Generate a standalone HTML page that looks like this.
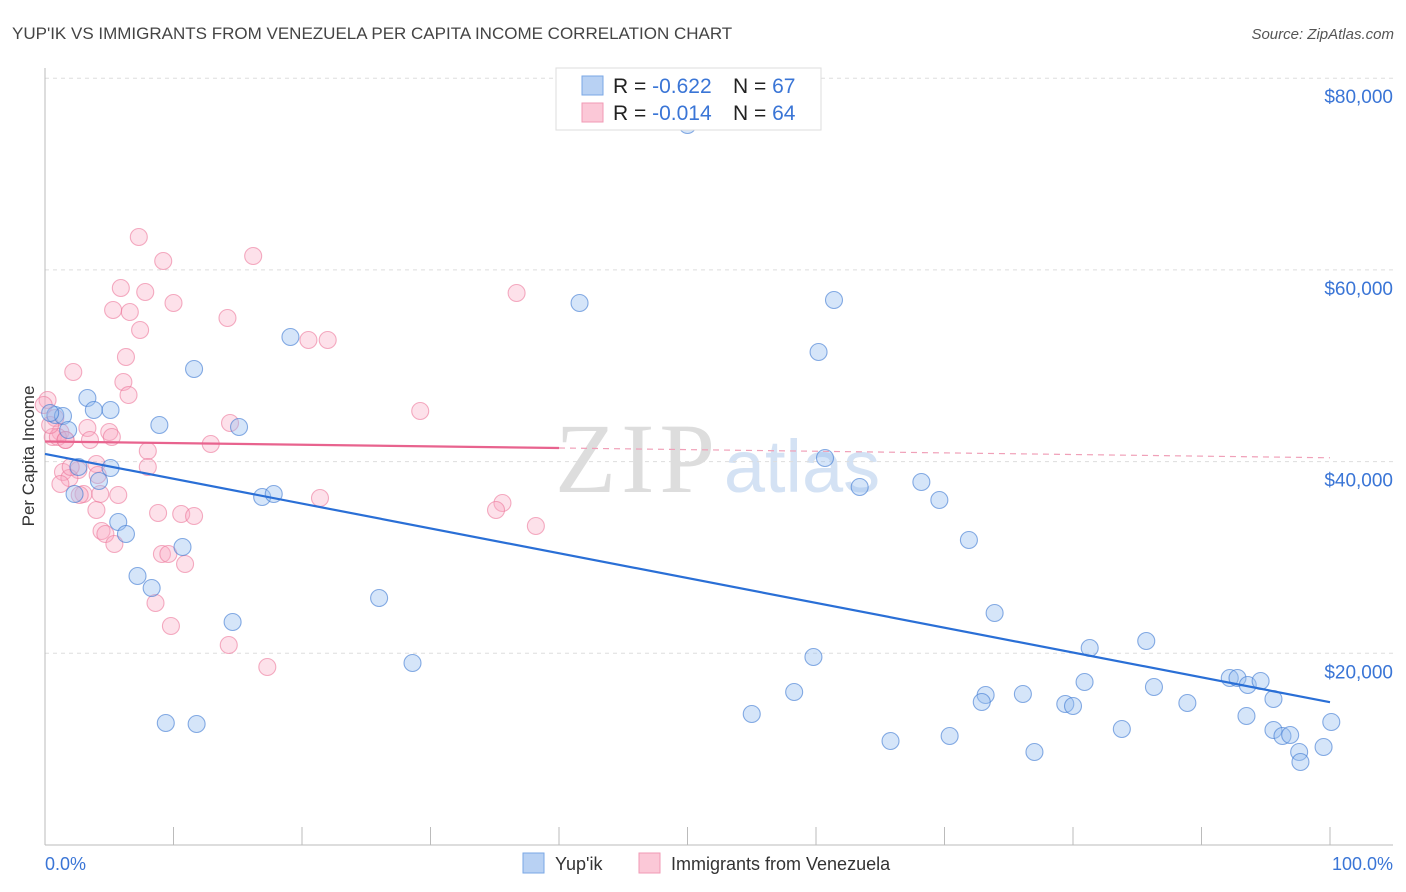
<!DOCTYPE html>
<html><head><meta charset="utf-8"><style>
body{margin:0;background:#fff;font-family:"Liberation Sans",sans-serif}
svg{display:block}
</style></head><body>
<svg id="chart" width="1406" height="892">
<text x="12" y="39" font-size="17" fill="#444">YUP'IK VS IMMIGRANTS FROM VENEZUELA PER CAPITA INCOME CORRELATION CHART</text>
<text x="1394" y="39" font-size="15" fill="#555" font-style="italic" text-anchor="end">Source: ZipAtlas.com</text>
<g><text x="635" y="492" font-size="100" fill="#ddd" font-family="Liberation Serif,serif" text-anchor="middle" textLength="160">ZIP</text><text x="802" y="492" font-size="74" fill="#d4e2f4" text-anchor="middle">atlas</text></g>
<g id="grid"></g>
<line x1="45" y1="68" x2="45" y2="845" stroke="#bbb"/>
<line x1="45" y1="845" x2="1393" y2="845" stroke="#bbb"/>
<g id="ticks"></g>
<text x="28" y="456" font-size="17" fill="#333" text-anchor="middle" transform="rotate(-90 28 456)" dy="6">Per Capita Income</text>
<text x="45" y="870" font-size="18" fill="#3a75d6">0.0%</text>
<text x="1393" y="870" font-size="18" fill="#3a75d6" text-anchor="end">100.0%</text>
<g id="pts"></g>
<g id="lines"></g>
<g>
<rect x="556" y="68" width="265" height="62" fill="#fff" stroke="#ddd"/>
<rect x="582" y="76" width="21" height="19" fill="#b8d1f3" stroke="#7aa7e6"/>
<rect x="582" y="103" width="21" height="19" fill="#fbc8d7" stroke="#f09ab4"/>
<text x="613" y="93" font-size="21" fill="#222">R = <tspan fill="#3a75d6">-0.622</tspan><tspan x="733">N = </tspan><tspan fill="#3a75d6">67</tspan></text>
<text x="613" y="120" font-size="21" fill="#222">R = <tspan fill="#3a75d6">-0.014</tspan><tspan x="733">N = </tspan><tspan fill="#3a75d6">64</tspan></text>
</g>
<g>
<rect x="523" y="853" width="21" height="20" fill="#b8d1f3" stroke="#7aa7e6"/>
<text x="555" y="870" font-size="18" fill="#333">Yup'ik</text>
<rect x="639" y="853" width="21" height="20" fill="#fbc8d7" stroke="#f09ab4"/>
<text x="671" y="870" font-size="18" fill="#333">Immigrants from Venezuela</text>
</g>
</svg>
<script>
const yTicks=[20000,40000,60000,80000];
const yTickLabels=["$20,000","$40,000","$60,000","$80,000"];
const bluePx=[[688,125],[580,303],[834,300],[818,352],[291,337],[194,369],[87,398],[94,410],[110,410],[55,415],[63,416],[50,413],[239,427],[159,425],[68,430],[111,468],[78,467],[99,481],[74,494],[825,458],[860,487],[921,482],[939,500],[262,497],[274,494],[118,522],[126,534],[183,547],[138,576],[152,588],[969,540],[379,598],[994,613],[233,622],[1146,641],[1090,648],[814,657],[412,663],[1084,682],[1154,687],[794,692],[985,695],[982,702],[1023,694],[1065,704],[1073,706],[1188,703],[1230,678],[1238,678],[1248,685],[1261,681],[1274,699],[752,714],[166,723],[197,724],[1246,716],[1331,722],[1122,729],[890,741],[949,736],[1035,752],[1273,730],[1282,736],[1290,735],[1299,752],[1323,747],[1300,762]];
const pinkPx=[[139,237],[163,261],[253,256],[121,288],[145,292],[174,303],[113,310],[130,312],[140,330],[227,318],[516,293],[308,340],[328,340],[126,357],[73,372],[124,382],[128,395],[47,400],[420,411],[55,418],[230,423],[60,432],[88,428],[109,432],[53,437],[66,440],[90,440],[112,437],[211,444],[148,451],[148,467],[96,464],[79,470],[63,472],[70,478],[61,484],[84,494],[100,494],[118,495],[320,498],[502,503],[496,510],[97,510],[158,513],[181,514],[194,516],[536,526],[102,531],[106,534],[115,544],[162,554],[168,554],[185,564],[156,603],[171,626],[229,645],[267,667],[58,437],[44,405],[80,495],[71,467],[98,475],[50,425],[65,440]];
const blueX=bluePx.map(p=>+((p[0]-45)/12.85).toFixed(1));
const blueY=bluePx.map(p=>Math.round((845-p[1])/191.7*20000));
const pinkX=pinkPx.map(p=>+((p[0]-45)/12.85).toFixed(1));
const pinkY=pinkPx.map(p=>Math.round((845-p[1])/191.7*20000));
const blueTrend=[40800,14900];
const pinkTrend=[42100,40400];
const X=v=>45+v*12.85, Y=v=>845-v/20000*191.7;
const NS="http://www.w3.org/2000/svg";
function mk(tag,attrs,parent){const e=document.createElementNS(NS,tag);for(const k in attrs)e.setAttribute(k,attrs[k]);document.getElementById(parent).appendChild(e);return e;}
yTicks.forEach((t,i)=>{
 const l=mk('line',{x1:45,x2:1393,y1:Y(t),y2:Y(t),stroke:'#ddd','stroke-dasharray':'4,4'},'grid');
 
 
 const tx=mk('text',{x:1393,y:Y(t)+25,'font-size':19,fill:'#3a75d6','text-anchor':'end'},'grid');
 tx.textContent=yTickLabels[i];
 
 
});
for(let i=0;i<=10;i++){
 const l=mk('line',{x1:X(i*10),x2:X(i*10),y1:i==0?68:827,y2:845,stroke:'#bbb'},'ticks');
 
 
}
pinkX.forEach((x,i)=>{
 const c=mk('circle',{cx:X(x),cy:Y(pinkY[i]),r:8.5,fill:'rgba(248,170,195,0.35)',stroke:'rgba(236,120,155,0.6)','stroke-width':1.1},'pts');
 
 
});
blueX.forEach((x,i)=>{
 const c=mk('circle',{cx:X(x),cy:Y(blueY[i]),r:8.5,fill:'rgba(150,190,240,0.4)',stroke:'rgba(60,120,210,0.6)','stroke-width':1.1},'pts');
 
 
});
let l=mk('line',{x1:X(0),y1:Y(blueTrend[0]),x2:X(100),y2:Y(blueTrend[1]),stroke:'#2a6fd6','stroke-width':2.2},'lines');


const pm=v=>pinkTrend[0]+(pinkTrend[1]-pinkTrend[0])*v/100;
l=mk('line',{x1:X(0),y1:Y(pm(0)),x2:X(40),y2:Y(pm(40)),stroke:'#e8638e','stroke-width':2.2},'lines');


l=mk('line',{x1:X(40),y1:Y(pm(40)),x2:X(100),y2:Y(pm(100)),stroke:'#f0a0b8','stroke-width':1.2,'stroke-dasharray':'6,5'},'lines');


</script>
</body></html>
